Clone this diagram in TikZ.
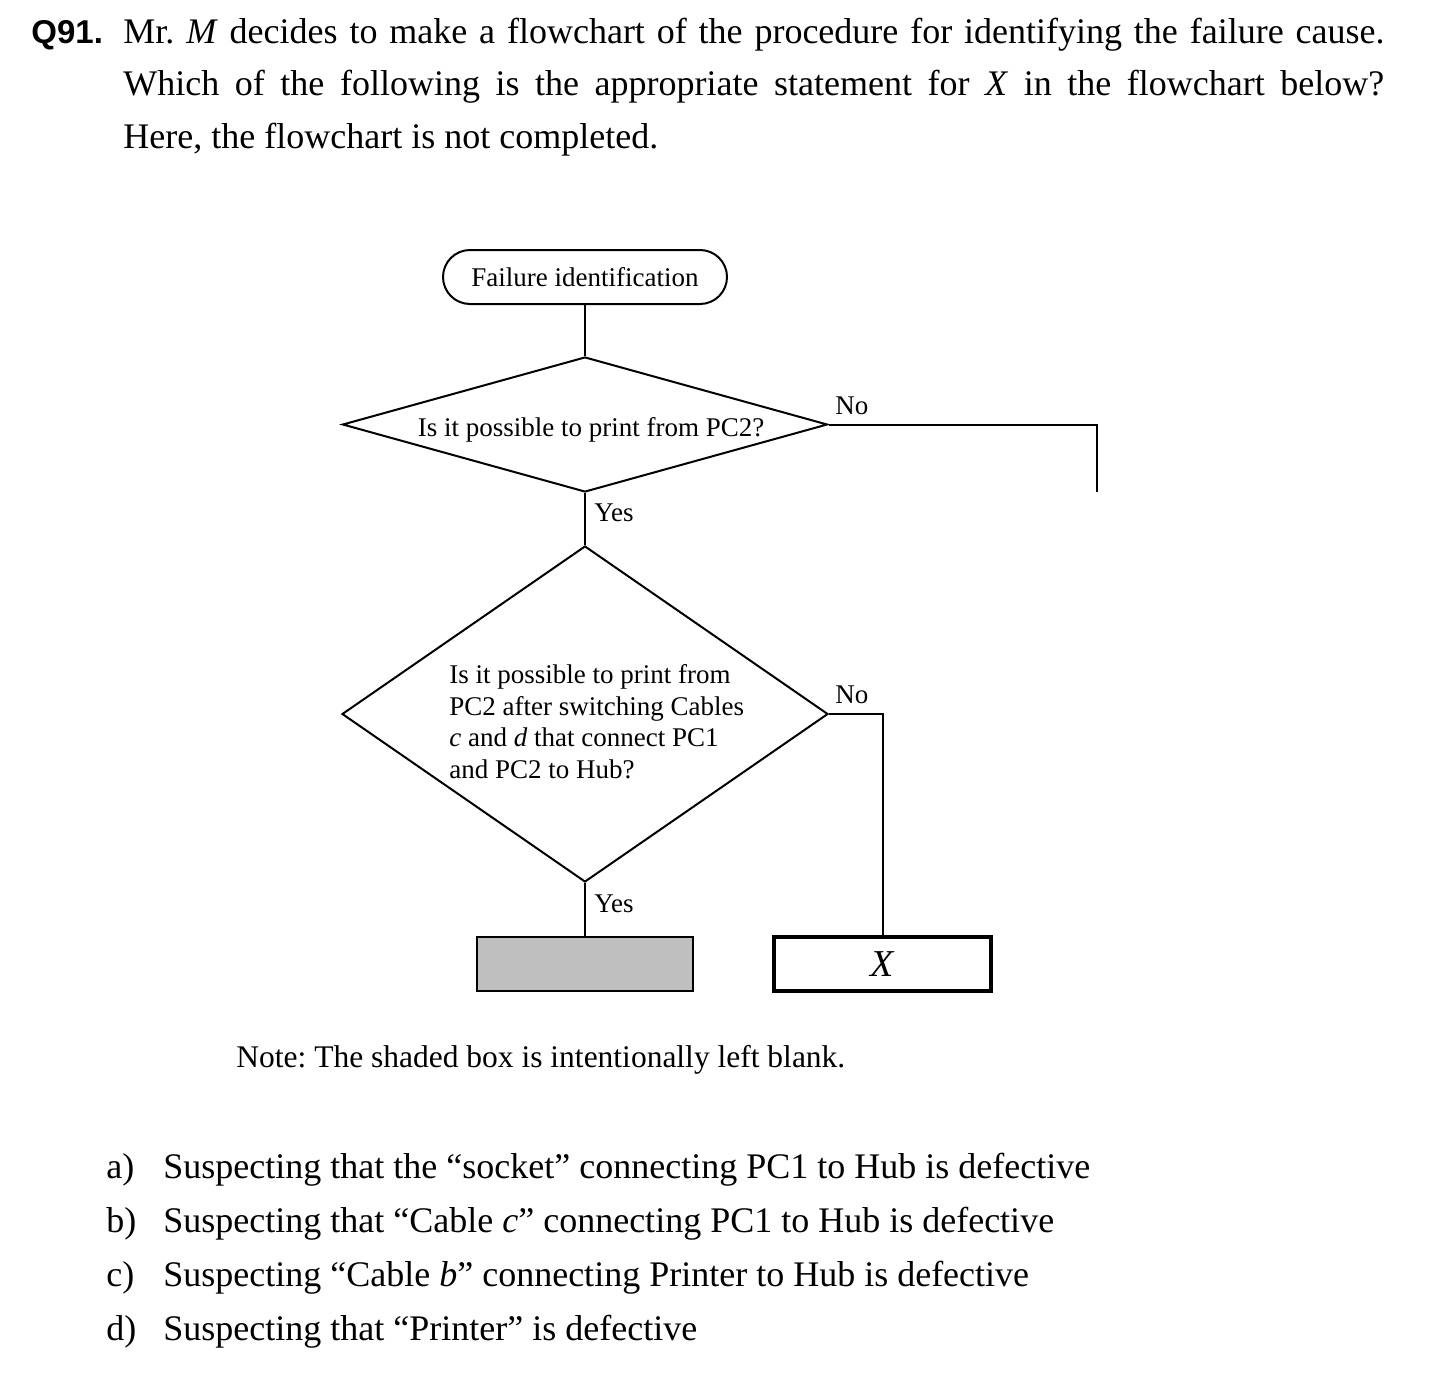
\documentclass[tikz,border=0pt]{standalone}
\usepackage{fontspec}
\setmainfont{Liberation Serif}
\setsansfont{Liberation Sans}
\usepackage{xcolor}
\usepackage{tikz}
\usetikzlibrary{shapes.geometric}
\frenchspacing
\definecolor{boxgray}{RGB}{191,191,191}
\newcommand{\flowfont}{\fontsize{13.5pt}{15.85pt}\selectfont}
\newcommand{\bodyfont}{\fontsize{18pt}{26pt}\selectfont}
\tikzset{
    tnode/.style = {align=center, inner sep=0pt, text centered},
    flowline/.style = {draw=black, line width=1pt},
    terminal/.style = {tnode, rectangle, flowline, rounded corners=13.5pt, minimum width=142pt, minimum height=27pt, font=\flowfont},
    decision/.style = {tnode, diamond, flowline, font=\flowfont},
    blank_box/.style = {tnode, rectangle, flowline, fill=boxgray, minimum width=108pt, minimum height=27pt},
    answer_box/.style = {tnode, rectangle, draw=black, line width=2pt, minimum width=108.5pt, minimum height=27pt, font=\fontsize{19pt}{20pt}\selectfont\itshape}
}
\tikzset{
    flowtext/.style = {inner sep=0pt, anchor=base west, font=\flowfont},
    bodytext/.style = {inner sep=0pt, anchor=base west, font=\bodyfont},
    notetext/.style = {inner sep=0pt, anchor=base west, font=\fontsize{15.75pt}{18pt}\selectfont}
}
\begin{document}
\begin{tikzpicture}[x=0.5pt, y=-0.5pt]
    \useasboundingbox (0,0) rectangle (1450,1376);
    % question
    \node [inner sep=0pt, anchor=base west, font=\fontsize{16.5pt}{20pt}\selectfont\sffamily\bfseries] (qnum) at (31,43) {Q91.};
    \node [bodytext] (qline1) at (123,43) {\makebox[630.5pt][s]{Mr. \textit{M} decides to make a flowchart of the procedure for identifying the failure cause.}};
    \node [bodytext] (qline2) at (123,95.5) {\makebox[630.5pt][s]{Which of the following is the appropriate statement for \textit{X} in the flowchart below?}};
    \node [bodytext] (qline3) at (123,148) {Here, the flowchart is not completed.};
    % flowchart
    \node [terminal] (start) at (585,277) {Failure identification};
    \node [decision, minimum width=242.5pt, minimum height=67.5pt] (q1) at (585,424.5) {};
    \node [flowtext, anchor=base] (q1text) at (591,436) {Is it possible to print from PC2?};
    \node [decision, minimum width=243pt, minimum height=168pt] (q2) at (585,714) {};
    \node [flowtext, anchor=north west, align=left] (q2text) at (449,664) {Is it possible to print from\\PC2 after switching Cables\\\textit{c} and \textit{d} that connect PC1\\and PC2 to Hub?};
    \node [blank_box] (blank) at (585,964) {};
    \node [answer_box] (xbox) at (882.5,964) {X};
    \coordinate (noend) at (1097,492);
    \draw [flowline] (start) -- (q1);
    \draw [flowline] (q1) -- (q2);
    \draw [flowline] (q2) -- (blank);
    \draw [flowline] (q1.east) -| (noend);
    \draw [flowline] (q2.east) -| (xbox.north);
    \node [flowtext] (no1) at (835,414) {No};
    \node [flowtext] (yes1) at (594,521) {Yes};
    \node [flowtext] (no2) at (835,703) {No};
    \node [flowtext] (yes2) at (594,912) {Yes};
    \node [notetext] (note) at (236,1067) {Note: The shaded box is intentionally left blank.};
    % answers
    \node [bodytext] (opta) at (106,1178) {a)};
    \node [bodytext] (texta) at (163,1178) {Suspecting that the “socket” connecting PC1 to Hub is defective};
    \node [bodytext] (optb) at (106,1232) {b)};
    \node [bodytext] (textb) at (163,1232) {Suspecting that “Cable \textit{c}” connecting PC1 to Hub is defective};
    \node [bodytext] (optc) at (106,1286) {c)};
    \node [bodytext] (textc) at (163,1286) {Suspecting “Cable \textit{b}” connecting Printer to Hub is defective};
    \node [bodytext] (optd) at (106,1340) {d)};
    \node [bodytext] (textd) at (163,1340) {Suspecting that “Printer” is defective};
\end{tikzpicture}
\end{document}
